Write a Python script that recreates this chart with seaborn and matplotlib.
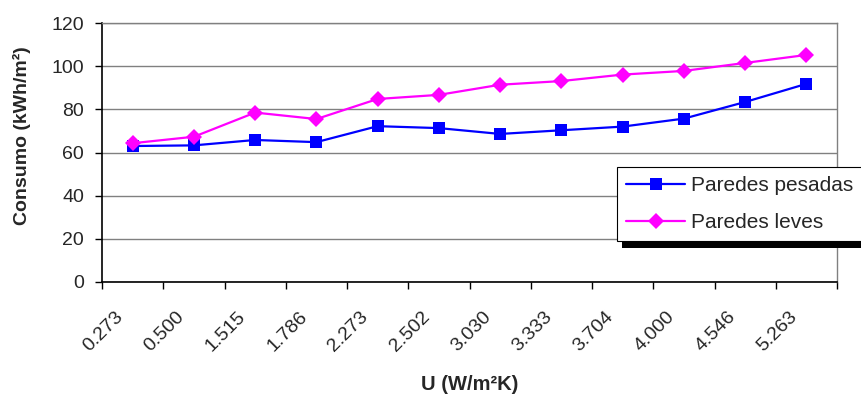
import matplotlib
matplotlib.use("Agg")
import matplotlib.pyplot as plt
import matplotlib.transforms as mtransforms
from matplotlib.patches import Rectangle
from matplotlib.lines import Line2D
import seaborn as sns
import pandas as pd
import numpy as np

categories = ["0.273", "0.500", "1.515", "1.786", "2.273", "2.502",
              "3.030", "3.333", "3.704", "4.000", "4.546", "5.263"]
pesadas = [63.0, 63.3, 65.8, 64.8, 72.2, 71.3, 68.6, 70.3, 72.0, 75.7, 83.4, 91.8]
leves = [64.3, 67.3, 78.5, 75.5, 84.8, 86.7, 91.4, 93.1, 96.1, 97.8, 101.5, 105.2]
series_names = ["Paredes pesadas", "Paredes leves"]

sns.set_theme(style="white")
plt.rcParams['font.family'] = ['Liberation Sans', 'DejaVu Sans']

df = pd.DataFrame({
    "pos": list(range(len(categories))) * 2,
    "valor": pesadas + leves,
    "serie": [series_names[0]] * len(categories) + [series_names[1]] * len(categories),
})

fig = plt.figure(figsize=(8.61, 3.94), dpi=100)
ax = fig.add_axes([102/861, 1-282/394, (837-102)/861, (282-23)/394])

sns.lineplot(data=df, x="pos", y="valor", hue="serie", style="serie",
             palette={series_names[0]: "#0000FF", series_names[1]: "#FF00FF"},
             markers={series_names[0]: "s", series_names[1]: "D"},
             dashes=False, markersize=8, markeredgewidth=0, linewidth=1.6,
             ax=ax, legend=False)

n = len(categories)
ax.set_xlim(-0.5, n - 0.5)
ax.set_ylim(0, 120)
ax.set_yticks(np.arange(0, 121, 20))
ax.set_xticks(np.arange(n))
ax.set_xticklabels(categories, rotation=45, ha="right", va="top", rotation_mode="anchor")
ax.set_xticks(np.arange(-0.5, n, 1), minor=True)
ax.tick_params(axis="x", which="major", length=0, labelsize=14, pad=19)
ax.tick_params(axis="x", which="minor", length=5, width=1, color="black", direction="out", bottom=True)
ax.tick_params(axis="y", which="major", length=5, width=1, color="black", direction="out", left=True, labelsize=14, pad=8)

offset = mtransforms.ScaledTranslation(-18/100, 0, fig.dpi_scale_trans)
for lbl in ax.get_xticklabels():
    lbl.set_transform(lbl.get_transform() + offset)

ax.yaxis.grid(True, color="#808080", linewidth=1)
ax.set_axisbelow(True)
for s in ["left", "bottom"]:
    ax.spines[s].set_color("black")
    ax.spines[s].set_linewidth(1.2)
for s in ["top", "right"]:
    ax.spines[s].set_color("#808080")
    ax.spines[s].set_linewidth(1)

ax.set_xlabel("U (W/m²K)", fontsize=14.5, fontweight="bold")
ax.xaxis.set_label_coords(470/861, 0, transform=fig.transFigure)
ax.xaxis.label.set_va("bottom")
ax.set_ylabel("Consumo (kWh/m²)", fontsize=14, fontweight="bold")
ax.yaxis.set_label_coords(22/861, 1-136/394, transform=fig.transFigure)
ax.yaxis.label.set_va("center")

handles = [
    Line2D([], [], color="#0000FF", marker="s", markersize=8, markeredgewidth=0, linewidth=1.6),
    Line2D([], [], color="#FF00FF", marker="D", markersize=8, markeredgewidth=0, linewidth=1.6),
]
leg = fig.legend(handles, series_names, loc="upper left",
                 bbox_to_anchor=(617/861, 1-167/394), fontsize=15,
                 frameon=True, fancybox=False, edgecolor="black", framealpha=1,
                 shadow=False, borderpad=0.45,
                 labelspacing=0.85, handlelength=2.8, handletextpad=0.3,
                 borderaxespad=0)
leg.get_frame().set_linewidth(0.8)
leg.set_zorder(10)

fig.canvas.draw()
bb = leg.get_window_extent()
shadow = Rectangle((bb.x0 + 5, bb.y0 - 7), bb.width + 20, bb.height,
                   transform=None, facecolor="black", edgecolor="none", zorder=9)
fig.patches.append(shadow)

fig.savefig("out.png", dpi=100)
